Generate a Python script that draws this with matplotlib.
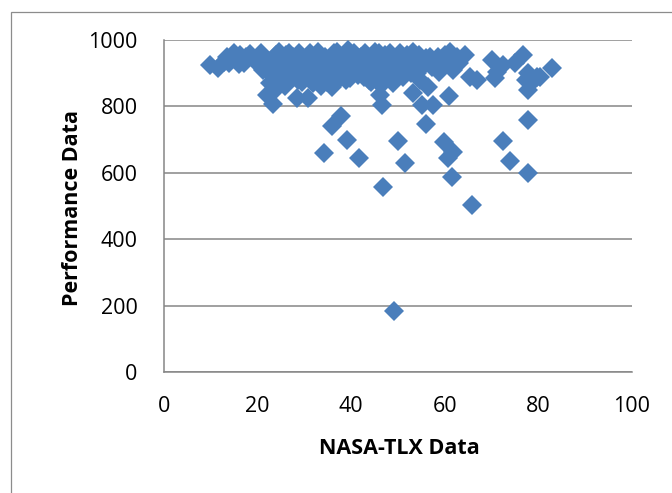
import matplotlib
matplotlib.use("Agg")
import matplotlib.pyplot as plt
from matplotlib.patches import Rectangle

# NASA-TLX (x) vs Performance (y) values
nasa_tlx = [
    9.8, 11.5, 12.8, 13.5, 14.3, 15.0, 15.5, 16.3, 17.0, 17.6, 18.4, 19.2, 20.0, 16.0, 13.8,
    20.8, 21.5, 22.0, 22.6, 22.6, 23.3, 23.0, 24.0, 24.5, 25.0, 25.5, 26.0, 26.5, 27.0,
    27.5, 28.0, 28.4, 28.8, 29.2, 29.5, 30.0, 30.5, 24.2, 25.8, 21.2, 27.2, 23.8, 26.8,
    30.8, 31.2, 31.8, 32.0, 32.5, 33.0, 33.4, 34.0, 34.5, 35.0, 35.5, 35.9, 36.3, 36.8,
    37.2, 37.8, 38.2, 38.6, 39.3, 39.6, 40.0, 33.5, 31.5, 37.0, 38.8, 35.2, 32.8,
    40.5, 41.0, 41.5, 42.0, 42.5, 43.0, 43.5, 44.0, 44.5, 45.0, 45.3, 45.6, 46.2, 46.6,
    46.8, 47.2, 47.5, 47.8, 43.8, 41.8, 46.0, 44.8,
    48.3, 48.7, 49.2, 49.7, 50.4, 50.8, 51.5, 52.0, 52.5, 53.2, 53.6, 53.2, 54.0, 54.5,
    55.1, 55.5, 56.0, 56.4, 56.8, 57.5, 57.2, 58.0, 51.0, 49.0,
    58.5, 59.2, 60.0, 60.5, 60.9, 61.1, 61.8, 62.5, 63.0, 64.3,
    65.4, 66.9, 70.0, 70.7, 71.2, 72.4, 75.0, 76.7, 77.4, 77.8, 77.8, 78.5, 79.7, 80.3, 82.9,
    28.6, 34.8, 39.8, 42.8, 44.2, 47.0, 50.2, 52.8, 54.8, 58.8, 26.2, 31.0, 36.0,
    49.1, 65.8, 46.7, 34.2, 41.7, 39.0, 35.8, 37.9, 50.0, 51.6, 55.9, 59.9, 60.6, 61.7,
    61.5, 72.4, 74.0, 77.7, 77.7,
]
performance = [
    925, 916, 935, 950, 945, 962, 940, 955, 930, 948, 958, 940, 950, 928, 930,
    960, 940, 834, 870, 900, 807, 925, 955, 965, 940, 910, 955, 885, 930,
    950, 900, 825, 960, 935, 875, 915, 945, 880, 860, 910, 905, 850, 960,
    825, 960, 870, 900, 940, 965, 920, 885, 950, 930, 905, 858, 960, 940,
    915, 890, 950, 925, 970, 945, 905, 860, 930, 965, 880, 890, 910,
    960, 930, 895, 950, 915, 960, 935, 900, 950, 965, 880, 925, 834, 804,
    870, 955, 910, 940, 880, 940, 960, 915,
    960, 925, 895, 945, 961, 915, 940, 955, 925, 964, 940, 840, 900, 955,
    804, 925, 945, 858, 949, 804, 920, 935, 890, 870,
    950, 930, 955, 940, 831, 964, 910, 950, 930, 955,
    889, 880, 940, 886, 905, 925, 930, 955, 880, 900, 849, 870, 889, 889, 916,
    880, 875, 885, 890, 875, 895, 905, 900, 880, 905, 920, 900, 920,
    184, 502, 557, 660, 645, 700, 740, 770, 697, 631, 747, 692, 645, 662,
    587, 697, 636, 600, 760,
]

x_ticks = [0, 20, 40, 60, 80, 100]
y_ticks = [0, 200, 400, 600, 800, 1000]
x_title = "NASA-TLX Data"
y_title = "Performance Data"

FONT = "Open Sans"
W, H = 672, 493
fig = plt.figure(figsize=(W / 100, H / 100), dpi=100)
fig.patch.set_facecolor("white")

# outer chart border (Excel-style), partially cropped on right/bottom
fig.add_artist(Rectangle((10.5 / W, -0.05), 1.2, (H - 12.5) / H + 0.05,
                         transform=fig.transFigure, fill=False,
                         edgecolor="#8c8c8c", linewidth=0.9))

ax = fig.add_axes([164 / W, 1 - 372 / H, (632 - 164) / W, (372 - 40) / H])
ax.set_xlim(0, 100)
ax.set_ylim(0, 1000)
ax.set_xticks(x_ticks)
ax.set_yticks(y_ticks)
ax.set_xticklabels([str(v) for v in x_ticks], fontfamily=FONT, fontsize=15.5)
ax.set_yticklabels([str(v) for v in y_ticks], fontfamily=FONT, fontsize=15.5)
ax.tick_params(axis="both", length=0, colors="black")
ax.tick_params(axis="x", pad=17)
ax.tick_params(axis="y", pad=19)

ax.grid(axis="y", color="#868686", linewidth=1.1)
ax.set_axisbelow(True)
for s in ["top", "right"]:
    ax.spines[s].set_visible(False)
for s in ["left", "bottom"]:
    ax.spines[s].set_color("#868686")
    ax.spines[s].set_linewidth(1.1)

ax.plot(nasa_tlx, performance, linestyle="none", marker="D", markersize=10,
        markerfacecolor="#4a7ebb", markeredgewidth=0, clip_on=False, zorder=3)

fig.text(399 / W, 1 - 448 / H, x_title, ha="center", va="center",
         fontfamily=FONT, fontweight="bold", fontsize=15.5)
fig.text(72 / W, 1 - 208 / H, y_title, ha="center", va="center", rotation=90,
         fontfamily=FONT, fontweight="bold", fontsize=15.5)

fig.savefig("out.png", dpi=100, facecolor="white")
